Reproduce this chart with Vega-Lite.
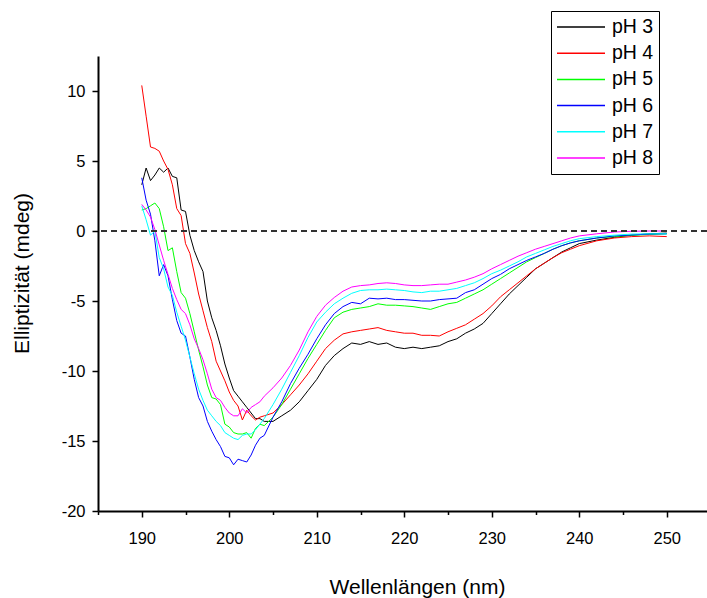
{
  "$schema": "https://vega.github.io/schema/vega-lite/v6.json",
  "width": 609,
  "height": 455,
  "autosize": "none",
  "padding": {"left": 98, "top": 56, "right": 0, "bottom": 87},
  "config": {
    "font": "Liberation Sans",
    "view": {"stroke": null},
    "axis": {
      "grid": false,
      "domainColor": "black",
      "domainWidth": 2,
      "tickColor": "black",
      "tickWidth": 1.5,
      "labelColor": "black",
      "labelFontSize": 16.5,
      "labelOverlap": false,
      "labelFlush": false,
      "titleColor": "black",
      "titleFontSize": 21,
      "titleFontWeight": "normal",
      "titleBaseline": "alphabetic"
    },
    "legend": {
      "title": null,
      "orient": "none",
      "legendX": 453,
      "legendY": -45,
      "strokeColor": "black",
      "fillColor": "white",
      "padding": 5,
      "symbolType": "stroke",
      "symbolSize": 2304,
      "symbolStrokeWidth": 1.5,
      "labelFontSize": 19.5,
      "labelColor": "black",
      "labelOffset": 6,
      "rowPadding": 4.2,
      "clipHeight": 22
    }
  },
  "data": {
    "values": [
      {"w": 190, "pH 3": 3.3, "pH 4": 10.4, "pH 5": 1.5, "pH 6": 3.8, "pH 7": 1.8, "pH 8": 1.9},
      {"w": 190.5, "pH 3": 4.5, "pH 4": 8.2, "pH 5": 1.6, "pH 6": 2.2, "pH 7": 0.8, "pH 8": 1.5},
      {"w": 191, "pH 3": 3.6, "pH 4": 6.0, "pH 5": 1.8, "pH 6": 1.2, "pH 7": -0.3, "pH 8": 1.0},
      {"w": 191.5, "pH 3": 4.0, "pH 4": 5.9, "pH 5": 2.0, "pH 6": -0.7, "pH 7": 0.0, "pH 8": 0.1},
      {"w": 192, "pH 3": 4.5, "pH 4": 5.7, "pH 5": 1.6, "pH 6": -3.2, "pH 7": -1.9, "pH 8": -1.0},
      {"w": 192.5, "pH 3": 4.2, "pH 4": 5.0, "pH 5": 0.3, "pH 6": -2.4, "pH 7": -2.7, "pH 8": -2.1},
      {"w": 193, "pH 3": 4.5, "pH 4": 4.4, "pH 5": -1.4, "pH 6": -3.2, "pH 7": -4.0, "pH 8": -3.1},
      {"w": 193.5, "pH 3": 3.9, "pH 4": 3.3, "pH 5": -1.2, "pH 6": -4.9, "pH 7": -4.6, "pH 8": -4.1},
      {"w": 194, "pH 3": 3.8, "pH 4": 1.6, "pH 5": -2.9, "pH 6": -6.4, "pH 7": -5.8, "pH 8": -4.9},
      {"w": 194.5, "pH 3": 1.5, "pH 4": 1.1, "pH 5": -4.4, "pH 6": -7.3, "pH 7": -6.8, "pH 8": -5.6},
      {"w": 195, "pH 3": 1.4, "pH 4": -0.9, "pH 5": -4.8, "pH 6": -7.5, "pH 7": -7.8, "pH 8": -5.9},
      {"w": 195.5, "pH 3": -0.3, "pH 4": -1.6, "pH 5": -5.9, "pH 6": -9.0, "pH 7": -9.0, "pH 8": -6.7},
      {"w": 196, "pH 3": -1.4, "pH 4": -3.0, "pH 5": -7.2, "pH 6": -10.6, "pH 7": -10.2, "pH 8": -7.7},
      {"w": 196.5, "pH 3": -2.2, "pH 4": -4.5, "pH 5": -8.5, "pH 6": -11.9, "pH 7": -11.3, "pH 8": -8.4},
      {"w": 197, "pH 3": -2.9, "pH 4": -5.7, "pH 5": -9.7, "pH 6": -12.5, "pH 7": -12.1, "pH 8": -9.2},
      {"w": 197.5, "pH 3": -5.0, "pH 4": -6.9, "pH 5": -11.0, "pH 6": -13.6, "pH 7": -12.8, "pH 8": -10.2},
      {"w": 198, "pH 3": -6.2, "pH 4": -7.9, "pH 5": -11.9, "pH 6": -14.3, "pH 7": -13.2, "pH 8": -11.3},
      {"w": 198.5, "pH 3": -7.1, "pH 4": -9.3, "pH 5": -12.0, "pH 6": -14.9, "pH 7": -13.6, "pH 8": -11.9},
      {"w": 199, "pH 3": -8.2, "pH 4": -10.0, "pH 5": -12.4, "pH 6": -15.4, "pH 7": -13.9, "pH 8": -12.1},
      {"w": 199.5, "pH 3": -9.5, "pH 4": -10.7, "pH 5": -13.8, "pH 6": -16.1, "pH 7": -14.4, "pH 8": -12.6},
      {"w": 200, "pH 3": -10.5, "pH 4": -11.5, "pH 5": -14.0, "pH 6": -16.2, "pH 7": -14.6, "pH 8": -13.0},
      {"w": 200.5, "pH 3": -11.4, "pH 4": -12.1, "pH 5": -14.4, "pH 6": -16.7, "pH 7": -14.8, "pH 8": -13.2},
      {"w": 201, "pH 3": -11.8, "pH 4": -12.5, "pH 5": -14.5, "pH 6": -16.3, "pH 7": -14.9, "pH 8": -13.2},
      {"w": 201.5, "pH 3": -12.2, "pH 4": -13.5, "pH 5": -14.5, "pH 6": -16.4, "pH 7": -14.6, "pH 8": -12.7},
      {"w": 202, "pH 3": -12.6, "pH 4": -12.8, "pH 5": -14.4, "pH 6": -16.5, "pH 7": -14.5, "pH 8": -13.0},
      {"w": 202.5, "pH 3": -13.0, "pH 4": -13.2, "pH 5": -14.8, "pH 6": -16.0, "pH 7": -14.5, "pH 8": -12.6},
      {"w": 203, "pH 3": -13.4, "pH 4": -13.5, "pH 5": -14.1, "pH 6": -15.3, "pH 7": -14.2, "pH 8": -12.4},
      {"w": 203.5, "pH 3": -13.4, "pH 4": -13.3, "pH 5": -13.8, "pH 6": -14.8, "pH 7": -13.8, "pH 8": -12.2},
      {"w": 204, "pH 3": -13.6, "pH 4": -13.2, "pH 5": -13.9, "pH 6": -14.6, "pH 7": -13.4, "pH 8": -11.8},
      {"w": 205, "pH 3": -13.6, "pH 4": -13.0, "pH 5": -13.3, "pH 6": -13.3, "pH 7": -12.4, "pH 8": -11.2},
      {"w": 206, "pH 3": -13.2, "pH 4": -12.4, "pH 5": -12.4, "pH 6": -12.2, "pH 7": -11.3, "pH 8": -10.5},
      {"w": 207, "pH 3": -12.8, "pH 4": -11.7, "pH 5": -11.3, "pH 6": -10.9, "pH 7": -10.1, "pH 8": -9.6},
      {"w": 208, "pH 3": -12.2, "pH 4": -11.0, "pH 5": -10.2, "pH 6": -9.8, "pH 7": -8.9, "pH 8": -8.5},
      {"w": 209, "pH 3": -11.4, "pH 4": -10.2, "pH 5": -9.1, "pH 6": -8.8, "pH 7": -7.6, "pH 8": -7.2},
      {"w": 210, "pH 3": -10.6, "pH 4": -9.3, "pH 5": -8.1, "pH 6": -7.7, "pH 7": -6.5, "pH 8": -6.1},
      {"w": 211, "pH 3": -9.6, "pH 4": -8.4, "pH 5": -7.1, "pH 6": -6.7, "pH 7": -5.8, "pH 8": -5.3},
      {"w": 212, "pH 3": -8.9, "pH 4": -7.8, "pH 5": -6.2, "pH 6": -5.9, "pH 7": -5.2, "pH 8": -4.75},
      {"w": 213, "pH 3": -8.4, "pH 4": -7.35, "pH 5": -5.8, "pH 6": -5.4, "pH 7": -4.8, "pH 8": -4.3},
      {"w": 214, "pH 3": -8.0, "pH 4": -7.2, "pH 5": -5.6, "pH 6": -5.1, "pH 7": -4.45, "pH 8": -4.0},
      {"w": 215, "pH 3": -8.1, "pH 4": -7.1, "pH 5": -5.5, "pH 6": -5.2, "pH 7": -4.25, "pH 8": -3.9},
      {"w": 216, "pH 3": -7.9, "pH 4": -7.0, "pH 5": -5.4, "pH 6": -4.8, "pH 7": -4.2, "pH 8": -3.85},
      {"w": 217, "pH 3": -8.1, "pH 4": -6.9, "pH 5": -5.2, "pH 6": -4.85, "pH 7": -4.2, "pH 8": -3.75},
      {"w": 218, "pH 3": -8.0, "pH 4": -7.1, "pH 5": -5.3, "pH 6": -4.8, "pH 7": -4.15, "pH 8": -3.7},
      {"w": 219, "pH 3": -8.3, "pH 4": -7.2, "pH 5": -5.3, "pH 6": -4.9, "pH 7": -4.2, "pH 8": -3.75},
      {"w": 220, "pH 3": -8.4, "pH 4": -7.3, "pH 5": -5.35, "pH 6": -4.9, "pH 7": -4.25, "pH 8": -3.85},
      {"w": 221, "pH 3": -8.3, "pH 4": -7.3, "pH 5": -5.4, "pH 6": -4.95, "pH 7": -4.35, "pH 8": -3.9},
      {"w": 222, "pH 3": -8.4, "pH 4": -7.45, "pH 5": -5.5, "pH 6": -5.0, "pH 7": -4.4, "pH 8": -3.9},
      {"w": 223, "pH 3": -8.3, "pH 4": -7.45, "pH 5": -5.6, "pH 6": -5.0, "pH 7": -4.3, "pH 8": -3.85},
      {"w": 224, "pH 3": -8.2, "pH 4": -7.5, "pH 5": -5.4, "pH 6": -4.9, "pH 7": -4.3, "pH 8": -3.8},
      {"w": 225, "pH 3": -7.9, "pH 4": -7.2, "pH 5": -5.2, "pH 6": -4.85, "pH 7": -4.2, "pH 8": -3.8},
      {"w": 226, "pH 3": -7.7, "pH 4": -6.95, "pH 5": -5.1, "pH 6": -4.8, "pH 7": -4.1, "pH 8": -3.65},
      {"w": 227, "pH 3": -7.3, "pH 4": -6.7, "pH 5": -4.8, "pH 6": -4.4, "pH 7": -3.9, "pH 8": -3.5},
      {"w": 228, "pH 3": -7.0, "pH 4": -6.3, "pH 5": -4.5, "pH 6": -4.2, "pH 7": -3.7, "pH 8": -3.3},
      {"w": 229, "pH 3": -6.6, "pH 4": -5.9, "pH 5": -4.2, "pH 6": -3.8, "pH 7": -3.4, "pH 8": -3.05},
      {"w": 230, "pH 3": -5.9, "pH 4": -5.35, "pH 5": -3.8, "pH 6": -3.4, "pH 7": -3.05, "pH 8": -2.7},
      {"w": 231, "pH 3": -5.2, "pH 4": -4.7, "pH 5": -3.4, "pH 6": -3.1, "pH 7": -2.8, "pH 8": -2.4},
      {"w": 232, "pH 3": -4.5, "pH 4": -4.2, "pH 5": -3.0, "pH 6": -2.7, "pH 7": -2.5, "pH 8": -2.1},
      {"w": 233, "pH 3": -3.9, "pH 4": -3.7, "pH 5": -2.6, "pH 6": -2.4, "pH 7": -2.2, "pH 8": -1.8},
      {"w": 234, "pH 3": -3.3, "pH 4": -3.2, "pH 5": -2.2, "pH 6": -2.1, "pH 7": -1.85, "pH 8": -1.55},
      {"w": 235, "pH 3": -2.7, "pH 4": -2.7, "pH 5": -1.9, "pH 6": -1.85, "pH 7": -1.6, "pH 8": -1.3},
      {"w": 236, "pH 3": -2.3, "pH 4": -2.3, "pH 5": -1.6, "pH 6": -1.6, "pH 7": -1.35, "pH 8": -1.1},
      {"w": 237, "pH 3": -1.9, "pH 4": -1.9, "pH 5": -1.3, "pH 6": -1.3, "pH 7": -1.1, "pH 8": -0.9},
      {"w": 238, "pH 3": -1.5, "pH 4": -1.55, "pH 5": -1.05, "pH 6": -1.05, "pH 7": -0.9, "pH 8": -0.7},
      {"w": 239, "pH 3": -1.2, "pH 4": -1.3, "pH 5": -0.85, "pH 6": -0.85, "pH 7": -0.7, "pH 8": -0.5},
      {"w": 240, "pH 3": -0.9, "pH 4": -1.05, "pH 5": -0.7, "pH 6": -0.7, "pH 7": -0.55, "pH 8": -0.35},
      {"w": 242, "pH 3": -0.65, "pH 4": -0.7, "pH 5": -0.5, "pH 6": -0.5, "pH 7": -0.4, "pH 8": -0.2},
      {"w": 244, "pH 3": -0.45, "pH 4": -0.5, "pH 5": -0.4, "pH 6": -0.35, "pH 7": -0.3, "pH 8": -0.07},
      {"w": 246, "pH 3": -0.3, "pH 4": -0.4, "pH 5": -0.3, "pH 6": -0.28, "pH 7": -0.22, "pH 8": -0.02},
      {"w": 248, "pH 3": -0.2, "pH 4": -0.35, "pH 5": -0.25, "pH 6": -0.22, "pH 7": -0.2, "pH 8": 0.0},
      {"w": 250, "pH 3": -0.15, "pH 4": -0.4, "pH 5": -0.2, "pH 6": -0.2, "pH 7": -0.2, "pH 8": 0.0}
    ]
  },
  "layer": [
    {
      "transform": [{"fold": ["pH 3", "pH 4", "pH 5", "pH 6", "pH 7", "pH 8"], "as": ["series", "value"]}],
      "mark": {"type": "line", "strokeWidth": 1},
      "encoding": {
        "x": {
          "field": "w",
          "type": "quantitative",
          "scale": {"domain": [185, 254.6], "nice": false, "zero": false},
          "axis": {
            "title": "Wellenlängen (nm)",
            "values": [185, 190, 195, 200, 205, 210, 215, 220, 225, 230, 235, 240, 245, 250],
            "labelExpr": "datum.value % 10 === 0 ? '' + datum.value : ''",
            "tickSize": {"condition": {"test": "datum.value % 10 === 0", "value": 6}, "value": 3.5},
            "labelPadding": 13,
            "titleX": 319,
            "titleY": 82
          }
        },
        "y": {
          "field": "value",
          "type": "quantitative",
          "scale": {"domain": [-20, 12.5], "nice": false, "zero": false},
          "axis": {
            "title": "Elliptizität (mdeg)",
            "values": [-20, -17.5, -15, -12.5, -10, -7.5, -5, -2.5, 0, 2.5, 5, 7.5, 10, 12.5],
            "labelExpr": "datum.value % 5 === 0 ? '' + datum.value : ''",
            "tickSize": {"condition": {"test": "datum.value % 5 === 0", "value": 6}, "value": 3.5},
            "labelPadding": 7,
            "titleX": -70,
            "titleY": 217,
            "titleAngle": -90,
            "titleAlign": "center"
          }
        },
        "color": {
          "field": "series",
          "type": "nominal",
          "scale": {
            "domain": ["pH 3", "pH 4", "pH 5", "pH 6", "pH 7", "pH 8"],
            "range": ["#000000", "#ff0000", "#00ff00", "#0000ff", "#00ffff", "#ff00ff"]
          }
        },
        "order": {"field": "w", "type": "quantitative"}
      }
    },
    {
      "mark": {"type": "rule", "strokeDash": [6, 4], "color": "#333333", "strokeWidth": 1.5},
      "encoding": {"y": {"datum": 0}}
    }
  ]
}
